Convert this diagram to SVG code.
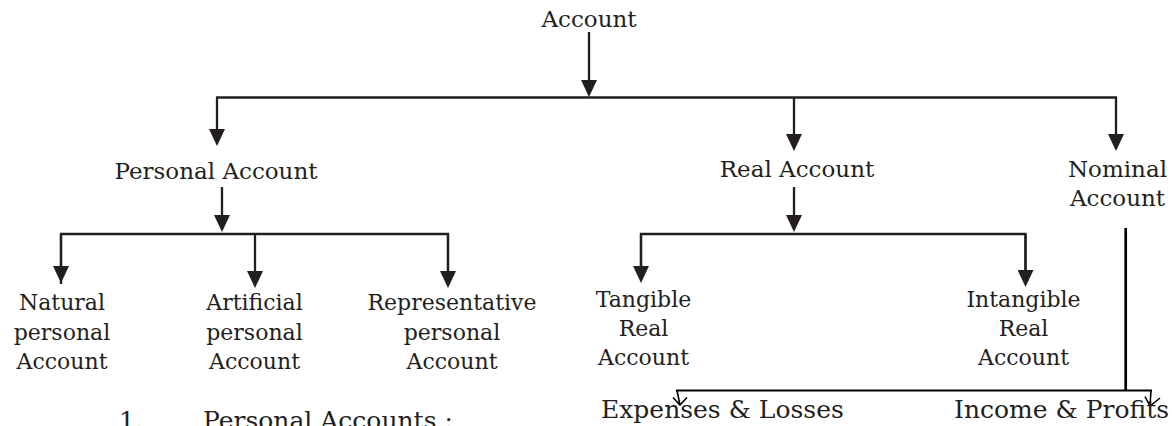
<svg xmlns="http://www.w3.org/2000/svg" width="1172" height="426" viewBox="0 0 1172 426">
<style>
  text { font-family: "DejaVu Serif", "Liberation Serif", serif; fill: #231f20; }
  .l1 { font-size: 23px; text-anchor: middle; }
  .l2 { font-size: 22px; text-anchor: middle; }
  .l3 { font-size: 25px; }
  .ln { stroke: #231f20; stroke-width: 2.3; fill: none; }
  .ar { stroke: #231f20; stroke-width: 2.3; fill: none; marker-end: url(#ah); }
  .open { stroke: #000; stroke-width: 1.6; fill: none; }
</style>
<defs>
  <marker id="ah" viewBox="0 0 17 16" refX="7" refY="8" markerWidth="17" markerHeight="16" markerUnits="userSpaceOnUse" orient="auto">
    <path d="M0,0 L17,8 L0,16 Z" fill="#231f20"/>
  </marker>
</defs>
<rect width="1172" height="426" fill="#fff"/>

<g id="connectors">
  <line class="ar" x1="589" y1="32" x2="589" y2="87"/>
  <line class="ln" x1="216" y1="97.5" x2="1117" y2="97.5"/>
  <polyline class="ar" points="217,97.5 217,136"/>
  <line class="ar" x1="794" y1="97.5" x2="794" y2="141"/>
  <polyline class="ar" points="1116,97.5 1116,141"/>

  <line class="ar" x1="222" y1="187" x2="222" y2="222"/>
  <polyline class="ln" points="61,284 61,234 448,234 448,278"/>
  <line class="ar" x1="61" y1="234" x2="61" y2="273"/>
  <line class="ar" x1="255" y1="234" x2="255" y2="278"/>
  <line class="ar" x1="448" y1="234" x2="448" y2="278"/>

  <line class="ar" x1="794" y1="187" x2="794" y2="222"/>
  <polyline class="ln" points="641,270 641,234 1025.5,234 1025.5,270"/>
  <line class="ar" x1="641" y1="234" x2="641" y2="273"/>
  <line class="ar" x1="1025.5" y1="234" x2="1025.5" y2="277"/>

  <line x1="1125.7" y1="228" x2="1125.7" y2="390.5" stroke="#000" stroke-width="2.7"/>
  <line x1="676" y1="390.5" x2="1152" y2="390.5" stroke="#000" stroke-width="2"/>
  <path class="open" d="M677,390.5 L680,405 M673,397.5 L680,405 L687,397.5"/>
  <path class="open" d="M1151,390.5 L1150,406 M1145,396.5 L1150,406 L1160,398"/>
</g>

<g id="node-account"><text class="l1" x="589" y="27">Account</text></g>
<g id="node-personal"><text class="l1" x="216" y="179">Personal Account</text></g>
<g id="node-real"><text class="l1" x="797" y="177">Real Account</text></g>
<g id="node-nominal"><text class="l1" x="1117.5" y="177">Nominal</text><text class="l1" x="1117.5" y="206">Account</text></g>

<g id="node-natural"><text class="l2" x="62" y="310">Natural</text><text class="l2" x="62" y="339.5">personal</text><text class="l2" x="62" y="369">Account</text></g>
<g id="node-artificial"><text class="l2" x="254.5" y="310">Artificial</text><text class="l2" x="254.5" y="339.5">personal</text><text class="l2" x="254.5" y="369">Account</text></g>
<g id="node-representative"><text class="l2" x="452" y="310">Representative</text><text class="l2" x="452" y="339.5">personal</text><text class="l2" x="452" y="369">Account</text></g>

<g id="node-tangible"><text class="l2" x="643.5" y="307">Tangible</text><text class="l2" x="643.5" y="336">Real</text><text class="l2" x="643.5" y="365">Account</text></g>
<g id="node-intangible"><text class="l2" x="1023.5" y="307">Intangible</text><text class="l2" x="1023.5" y="336">Real</text><text class="l2" x="1023.5" y="365">Account</text></g>

<g id="node-expenses"><text class="l3" x="601" y="418">Expenses &amp; Losses</text></g>
<g id="node-income"><text class="l3" x="954" y="418">Income &amp; Profits</text></g>

<g id="caption"><text class="l3" x="119" y="429">1.</text><text class="l3" x="203" y="429">Personal Accounts :</text></g>
</svg>
